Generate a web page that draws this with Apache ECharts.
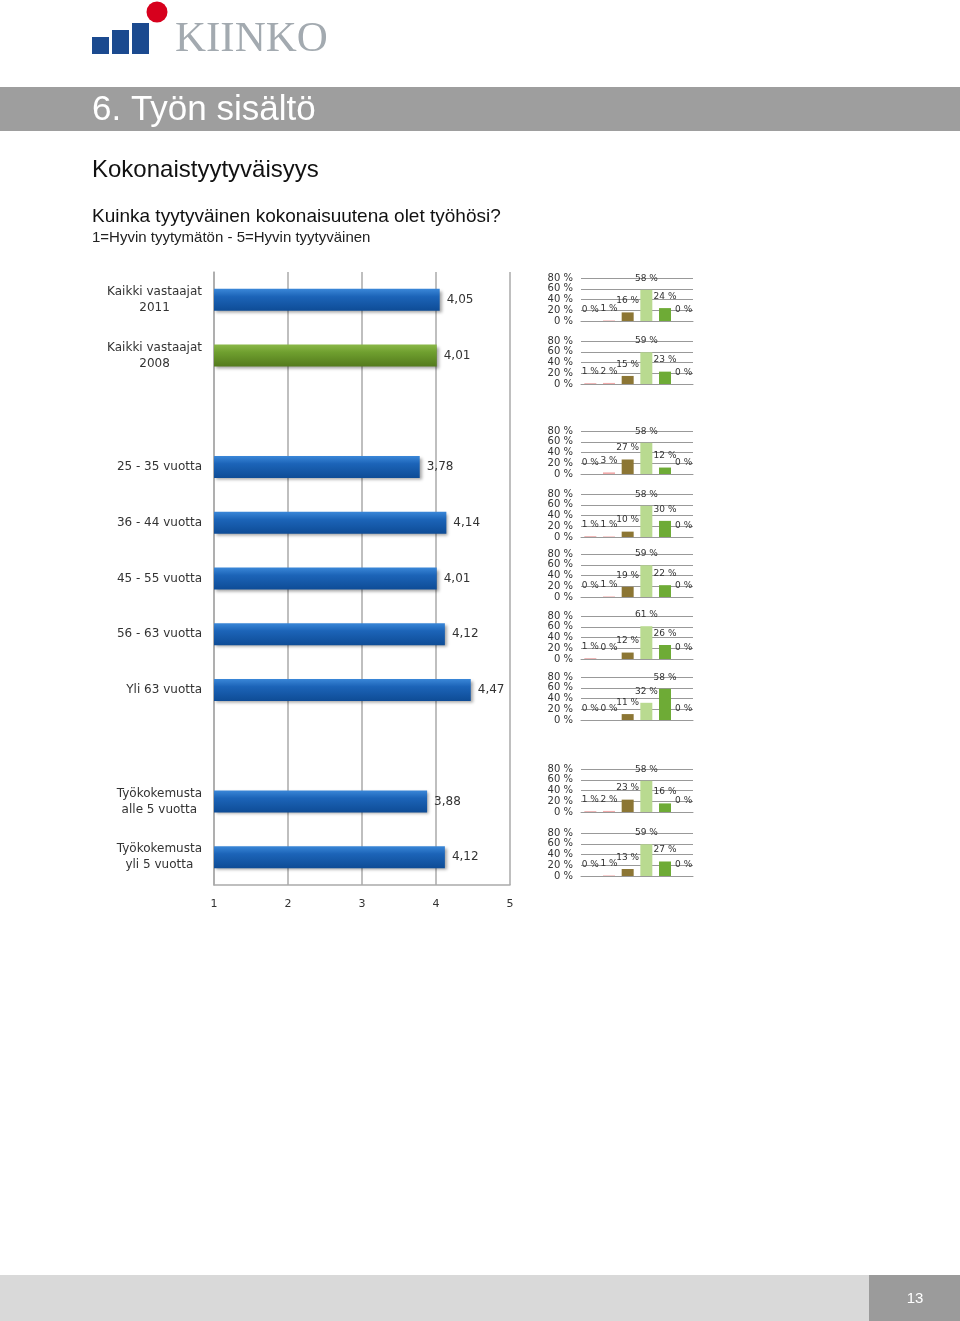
<!DOCTYPE html>
<html>
<head>
<meta charset="utf-8">
<title>6. Työn sisältö</title>
<script src="https://cdn.jsdelivr.net/npm/echarts@6/dist/echarts.min.js"></script>
<style>
  html, body { margin: 0; padding: 0; background: #fff; }
  #page { width: 960px; height: 1321px; }
</style>
</head>
<body>
<div id="page"></div>
<script>
// pääkaavio: keskiarvot (tyhjä rivi = väli ryhmien välissä)
var categories = ['Kaikki vastaajat\n2011', 'Kaikki vastaajat\n2008', '',
  '25 - 35 vuotta', '36 - 44 vuotta', '45 - 55 vuotta', '56 - 63 vuotta', 'Yli 63 vuotta', '',
  'Työkokemusta\nalle 5 vuotta', 'Työkokemusta\nyli 5 vuotta'];
var means = [4.05, 4.01, null, 3.78, 4.14, 4.01, 4.12, 4.47, null, 3.88, 4.12];
var scaleTicks = [1, 2, 3, 4, 5];

// pienet kaaviot: vastausjakaumat (%) luokille 1..5 + eos
var distCategories = ['1', '2', '3', '4', '5', 'eos'];
var percentTicks = [0, 20, 40, 60, 80];
var distAll2011 = [0, 1, 16, 58, 24, 0];
var distAll2008 = [1, 2, 15, 59, 23, 0];
var dist25to35 = [0, 3, 27, 58, 12, 0];
var dist36to44 = [1, 1, 10, 58, 30, 0];
var dist45to55 = [0, 1, 19, 59, 22, 0];
var dist56to63 = [1, 0, 12, 61, 26, 0];
var distOver63 = [0, 0, 11, 32, 58, 0];
var distUnder5 = [1, 2, 23, 58, 16, 0];
var distOver5 = [0, 1, 13, 59, 27, 0];
var distributions = [distAll2011, distAll2008, dist25to35, dist36to44, dist45to55,
  dist56to63, distOver63, distUnder5, distOver5];

var distColors = ['#e07a7a', '#f2aaaa', '#8c7634', '#b9da90', '#6eab36', '#4f81bd'];
var smallTops = [278, 341, 431, 494, 554, 616, 677, 769, 833];

var chart = echarts.init(document.getElementById('page'), null, { renderer: 'canvas' });

var blueBar = new echarts.graphic.LinearGradient(0, 0, 0, 1, [
  { offset: 0, color: '#3a87d8' }, { offset: 0.35, color: '#1c64b8' }, { offset: 1, color: '#0e4c96' }
]);
var greenBar = new echarts.graphic.LinearGradient(0, 0, 0, 1, [
  { offset: 0, color: '#8ab848' }, { offset: 0.35, color: '#6f9f2f' }, { offset: 1, color: '#537a1c' }
]);

var grids = [{ left: 214, top: 272, width: 296, height: 613 }];
var xAxes = [{
  type: 'value', gridIndex: 0, min: 1, max: 5, interval: 1,
  axisLine: { show: true, lineStyle: { color: '#aaaaaa', width: 1.5 } },
  axisTick: { show: false },
  splitLine: { show: true, lineStyle: { color: '#aaaaaa', width: 1.5 } },
  axisLabel: { margin: 14, fontSize: 11, color: '#333', fontFamily: 'DejaVu Sans',
    formatter: function (v) { return scaleTicks.indexOf(v) >= 0 ? String(v) : ''; } }
}];
var yAxes = [{
  type: 'category', gridIndex: 0, data: categories, inverse: true,
  axisLine: { show: true, lineStyle: { color: '#aaaaaa', width: 1.5 } },
  axisTick: { show: false },
  axisLabel: {
    margin: 12, interval: 0, align: 'right',
    formatter: function (v) {
      if (!v) return '';
      return v.split('\n').map(function (s) { return '{c|' + s + '}'; }).join('\n');
    },
    rich: { c: { align: 'center', fontSize: 12, lineHeight: 16, color: '#333', fontFamily: 'DejaVu Sans' } }
  }
}];
var series = [{
  type: 'bar', xAxisIndex: 0, yAxisIndex: 0, barWidth: 22,
  data: means.map(function (v, i) {
    if (v === null) return null;
    return { value: v, itemStyle: { color: i === 1 ? greenBar : blueBar } };
  }),
  itemStyle: { shadowColor: 'rgba(0,0,0,0.35)', shadowBlur: 3, shadowOffsetX: 2, shadowOffsetY: 2 },
  label: { show: true, position: 'right', distance: 7, fontSize: 12, color: '#333',
    fontFamily: 'DejaVu Sans',
    formatter: function (p) { return p.value.toFixed(2).replace('.', ','); } },
  silent: true
}];

distributions.forEach(function (dist, k) {
  var gi = k + 1;
  grids.push({ left: 581, top: smallTops[k], width: 112, height: 43 });
  xAxes.push({
    type: 'category', gridIndex: gi, data: distCategories,
    axisLine: { show: true, lineStyle: { color: '#999', width: 1 } },
    axisTick: { show: false }, axisLabel: { show: false }
  });
  yAxes.push({
    type: 'value', gridIndex: gi, min: 0, max: 80, interval: 20,
    axisLine: { show: false }, axisTick: { show: false },
    splitLine: { show: true, lineStyle: { color: '#999', width: 1 } },
    axisLabel: { margin: 8, fontSize: 10, color: '#333', fontFamily: 'DejaVu Sans',
      formatter: function (v) { return percentTicks.indexOf(v) >= 0 ? v + ' %' : ''; } }
  });
  series.push({
    type: 'bar', xAxisIndex: gi, yAxisIndex: gi, barWidth: 12,
    data: dist.map(function (v, i) { return { value: v, itemStyle: { color: distColors[i] } }; }),
    label: { show: true, position: 'top', distance: 7, fontSize: 9, color: '#333',
      fontFamily: 'DejaVu Sans', formatter: '{c} %' },
    silent: true
  });
});

var option = {
  animation: false,
  backgroundColor: '#ffffff',
  grid: grids,
  xAxis: xAxes,
  yAxis: yAxes,
  series: series,
  graphic: [
    // logo
    { type: 'rect', shape: { x: 92, y: 37, width: 17, height: 17 }, style: { fill: '#1b4a8f' } },
    { type: 'rect', shape: { x: 112, y: 30, width: 17, height: 24 }, style: { fill: '#1b4a8f' } },
    { type: 'rect', shape: { x: 132, y: 23, width: 17, height: 31 }, style: { fill: '#1b4a8f' } },
    { type: 'circle', shape: { cx: 157, cy: 12, r: 10.5 }, style: { fill: '#d7001d' } },
    { type: 'text', x: 175, y: 61, style: { text: 'KIINKO', fill: '#a3aab0',
      font: '43px "Liberation Serif"', textVerticalAlign: 'bottom' } },
    // otsikkopalkki
    { type: 'rect', shape: { x: 0, y: 87, width: 960, height: 44 }, style: { fill: '#9e9e9e' } },
    { type: 'text', x: 92, y: 110, style: { text: '6. Työn sisältö', fill: '#ffffff',
      font: '35px "Liberation Sans"', textVerticalAlign: 'middle' } },
    { type: 'text', x: 92, y: 170, style: { text: 'Kokonaistyytyväisyys', fill: '#111',
      font: '24px "Liberation Sans"', textVerticalAlign: 'middle' } },
    { type: 'text', x: 92, y: 217, style: { text: 'Kuinka tyytyväinen kokonaisuutena olet työhösi?', fill: '#111',
      font: '19px "Liberation Sans"', textVerticalAlign: 'middle' } },
    { type: 'text', x: 92, y: 238, style: { text: '1=Hyvin tyytymätön - 5=Hyvin tyytyväinen', fill: '#222',
      font: '15px "Liberation Sans"', textVerticalAlign: 'middle' } },
    // alapalkki
    { type: 'rect', shape: { x: 0, y: 1275, width: 960, height: 46 }, style: { fill: '#d9d9d9' } },
    { type: 'rect', shape: { x: 869, y: 1275, width: 91, height: 46 }, style: { fill: '#9b9b9b' } },
    { type: 'text', x: 915, y: 1299, style: { text: '13', fill: '#ffffff',
      font: '15px "Liberation Sans"', textAlign: 'center', textVerticalAlign: 'middle' } }
  ]
};

chart.setOption(option);
</script>
</body>
</html>
